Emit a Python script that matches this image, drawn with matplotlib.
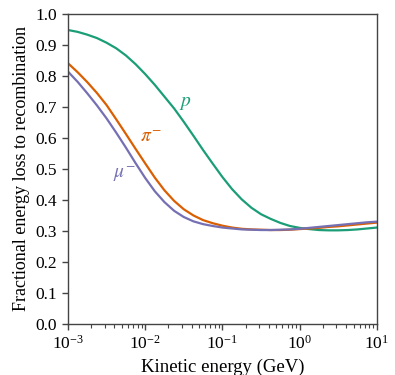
import matplotlib
matplotlib.use("Agg")
import matplotlib.pyplot as plt
import numpy as np

# log10 of kinetic energy (GeV)
log_energy = [-3.0, -2.875, -2.75, -2.625, -2.5, -2.375, -2.25, -2.125, -2.0,
              -1.875, -1.75, -1.625, -1.5, -1.375, -1.25, -1.125, -1.0,
              -0.875, -0.75, -0.625, -0.5, -0.375, -0.25, -0.125, 0.0,
              0.125, 0.25, 0.375, 0.5, 0.625, 0.75, 0.875, 1.0]

frac_p = [0.948, 0.942, 0.933, 0.922, 0.907, 0.889, 0.866, 0.838, 0.806,
          0.771, 0.733, 0.695, 0.652, 0.607, 0.561, 0.517, 0.474,
          0.435, 0.402, 0.375, 0.354, 0.339, 0.326, 0.316, 0.310,
          0.306, 0.303, 0.302, 0.302, 0.303, 0.305, 0.308, 0.311]
frac_pi = [0.841, 0.812, 0.780, 0.745, 0.706, 0.660, 0.613, 0.565, 0.518,
           0.472, 0.431, 0.397, 0.370, 0.350, 0.335, 0.325, 0.317,
           0.311, 0.307, 0.305, 0.304, 0.303, 0.303, 0.304, 0.306,
           0.308, 0.310, 0.313, 0.315, 0.318, 0.321, 0.324, 0.327]
frac_mu = [0.814, 0.781, 0.744, 0.705, 0.663, 0.617, 0.569, 0.519, 0.471,
           0.428, 0.393, 0.365, 0.345, 0.331, 0.322, 0.316, 0.311,
           0.308, 0.305, 0.304, 0.303, 0.303, 0.304, 0.305, 0.307,
           0.310, 0.313, 0.316, 0.319, 0.322, 0.325, 0.328, 0.330]

energy = 10.0 ** np.array(log_energy)

plt.rcParams['font.family'] = ['Liberation Serif', 'DejaVu Serif']
plt.rcParams['mathtext.fontset'] = 'stix'

fig = plt.figure(figsize=(3.95, 3.75), dpi=100)
ax = fig.add_axes([0.172, 0.136, 0.782, 0.827])

green = '#1b9e77'
orange = '#d95f02'
purple = '#7570b3'

ax.plot(energy, frac_p, color=green, lw=1.6)
ax.plot(energy, frac_pi, color=orange, lw=1.6)
ax.plot(energy, frac_mu, color=purple, lw=1.6)

ax.text(0.033, 0.71, r'$p$', color=green, fontsize=14, ha='center', va='center')
ax.text(0.012, 0.60, r'$\pi^{-}$', color=orange, fontsize=14, ha='center', va='center')
ax.text(0.0053, 0.484, r'$\mu^{-}$', color=purple, fontsize=14, ha='center', va='center')

ax.set_xscale('log')
ax.set_xlim(1e-3, 10)
ax.set_ylim(0, 1.0)
yt = np.arange(0, 1.01, 0.1)
ax.set_yticks(yt)
ax.set_yticklabels([f'{v:.1f}' for v in yt])

ax.set_xlabel('Kinetic energy (GeV)', fontsize=13.5)
ax.set_ylabel('Fractional energy loss to recombination', fontsize=13)

for s in ax.spines.values():
    s.set_color('#444444')
    s.set_linewidth(1.0)
ax.tick_params(which='major', direction='out', length=4.5, width=1, color='#444444', labelsize=12.5)
ax.tick_params(which='minor', direction='out', length=3, width=0.8, color='#444444')

fig.savefig('out.png', dpi=100)
